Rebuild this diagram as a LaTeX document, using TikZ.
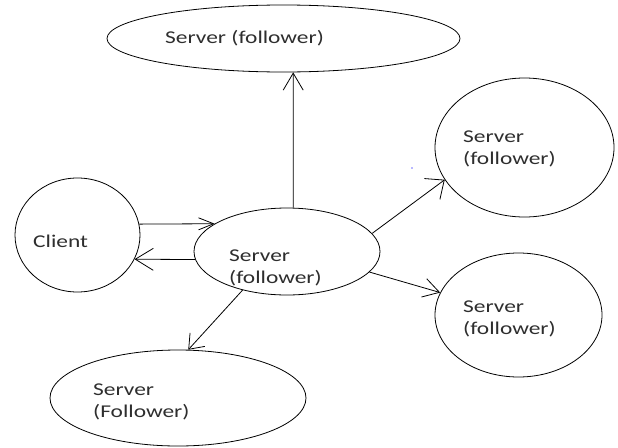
\documentclass[tikz,border=0pt]{standalone}
\usepackage{fontspec}
\setmainfont{Carlito}
\usetikzlibrary{shapes.geometric,arrows.meta}
% labels are set slightly wide
\newcommand{\widetext}[1]{\scalebox{1.3}[1]{#1}}
\begin{document}
\begin{tikzpicture}[x=1pt,y=-1pt,
  shp/.style={draw, ellipse, inner sep=0pt, line width=0.8pt},
  lbl/.style={anchor=base west, inner sep=0pt, text=black!82,
              font=\fontsize{18}{22}\selectfont},
  conn/.style 2 args={line width=0.8pt,
              -{Straight Barb[length=#1pt,width=#2pt]}}
]
\fill[white] (0,0) rectangle (618,447);
\useasboundingbox (0,0) rectangle (618,447);

% shapes
\node[shp, minimum width=353pt, minimum height=67pt]  (top)    at (283.5,38.5) {};
\node[shp, minimum width=125pt, minimum height=114pt] (client) at (77.5,235)   {};
\node[shp, minimum width=186pt, minimum height=87pt]  (srv)    at (287,251.5)  {};
\node[shp, minimum width=179pt, minimum height=139pt] (ur)     at (524.5,147.5){};
\node[shp, minimum width=167pt, minimum height=124pt] (lr)     at (518.5,315)  {};
\node[shp, minimum width=256pt, minimum height=96pt]  (bot)    at (178,398)    {};

% labels
\node[lbl] (tTop)    at (165,43)  {\widetext{Server (follower)}};
\node[lbl] (tClient) at (33,247)  {\widetext{Client}};
\node[lbl] (tSrvA)   at (229,261) {\widetext{Server}};
\node[lbl] (tSrvB)   at (229,283) {\widetext{(follower)}};
\node[lbl] (tUrA)    at (463,142) {\widetext{Server}};
\node[lbl] (tUrB)    at (463,164) {\widetext{(follower)}};
\node[lbl] (tLrA)    at (463,312) {\widetext{Server}};
\node[lbl] (tLrB)    at (463,334) {\widetext{(follower)}};
\node[lbl] (tBotA)   at (93,395)  {\widetext{Server}};
\node[lbl] (tBotB)   at (93,417)  {\widetext{(Follower)}};

% connectors
\draw[conn={15}{12}] (client.10) -- (srv.159);
\draw[conn={18}{22}] (srv.185) -- (client.-23.5);
\draw[conn={17}{20}] (srv.82.1) -- (top.-74.1);
\draw[conn={15}{26}] (srv.12) -- (ur.202);
\draw[conn={16}{19}] (srv.-14) -- (lr.164);
\draw[conn={13}{20}] (srv.221) -- (bot.78);

% stray speck
\fill[blue!55] (412,168) circle (0.8);
\end{tikzpicture}
\end{document}
